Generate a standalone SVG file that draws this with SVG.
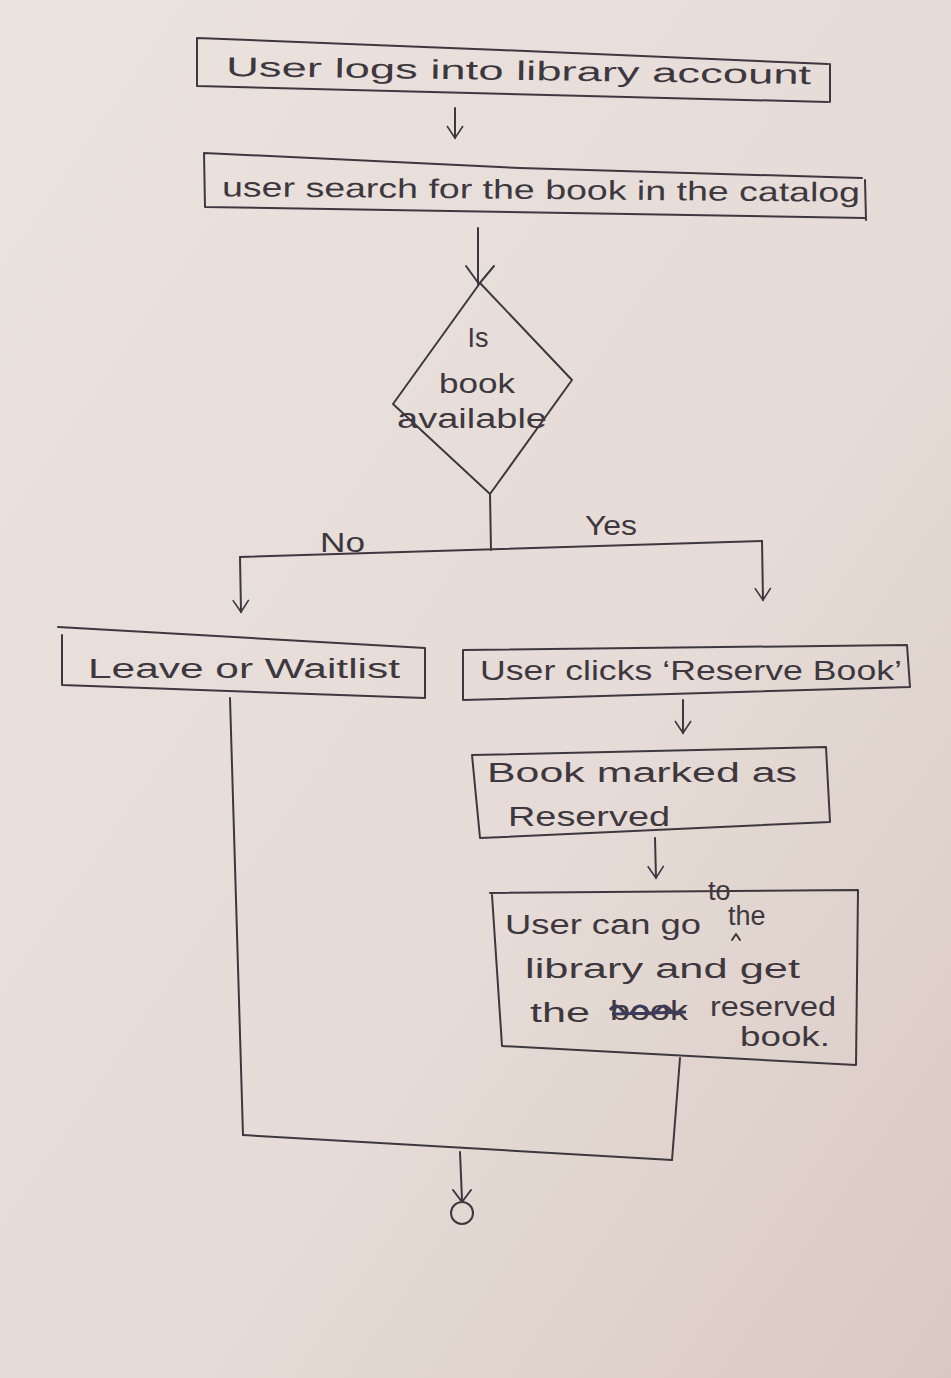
<svg xmlns="http://www.w3.org/2000/svg" width="951" height="1378" viewBox="0 0 951 1378">
<defs>
<linearGradient id="paper" x1="0" y1="0" x2="1" y2="1">
<stop offset="0" stop-color="#ebe3df"/>
<stop offset="0.6" stop-color="#e6dbd6"/>
<stop offset="1" stop-color="#d9c9c2"/>
</linearGradient>
<marker id="v" viewBox="0 0 20 20" refX="18" refY="10" markerWidth="20" markerHeight="20" markerUnits="userSpaceOnUse" orient="auto">
<path d="M6 2 L18 10 L6 18" fill="none" stroke="#3d3840" stroke-width="1.6"/>
</marker>
</defs>
<style>
.ink{fill:none;stroke:#3d3840;stroke-width:2;stroke-linejoin:round;stroke-linecap:round}
.t{font-family:"Liberation Sans","DejaVu Sans",sans-serif;fill:#3d3840;font-size:27px}
</style>
<rect width="951" height="1378" fill="url(#paper)"/>

<g id="connectors">
<path class="ink" d="M455 108 L455 138" marker-end="url(#v)"/>
<path class="ink" d="M478 228 L478 284"/>
<path class="ink" d="M466 266 L479 284 L494 266"/>
<path class="ink" d="M490 494 L491 550"/>
<path class="ink" d="M240 557 L762 541"/>
<path class="ink" d="M240 557 L241 612" marker-end="url(#v)"/>
<path class="ink" d="M762 541 L763 600" marker-end="url(#v)"/>
<path class="ink" d="M683 700 L683 733" marker-end="url(#v)"/>
<path class="ink" d="M655 838 L656 878" marker-end="url(#v)"/>
<path class="ink" d="M230 698 L243 1135"/>
<path class="ink" d="M680 1058 L672 1160"/>
<path class="ink" d="M243 1135 L672 1160"/>
<path class="ink" d="M460 1152 L462 1200"/>
<path class="ink" d="M453 1190 L462 1202 L471 1190"/>
</g>

<g id="start">
<path class="ink" d="M197 38 L500 50 L828 64 M197 38 L197 86 L828 102 M830 64 L830 102"/>
<text class="t" x="226" y="80" textLength="585" lengthAdjust="spacingAndGlyphs" transform="rotate(0.8 520 80)">User logs into library account</text>
</g>

<g id="search">
<path class="ink" d="M204 153 L520 168 L862 178 M204 153 L205 207 L865 218 M865 180 L866 220"/>
<text class="t" x="222" y="199" textLength="638" lengthAdjust="spacingAndGlyphs" transform="rotate(0.5 540 199)">user search for the book in the catalog</text>
</g>

<g id="decision">
<path class="ink" d="M480 283 L572 380 L490 494 L393 404 L480 283"/>
<text class="t" x="478" y="347" text-anchor="middle" font-size="24">Is</text>
<text class="t" x="477" y="393" text-anchor="middle" font-size="25" textLength="76" lengthAdjust="spacingAndGlyphs">book</text>
<text class="t" x="472" y="428" text-anchor="middle" font-size="25" textLength="150" lengthAdjust="spacingAndGlyphs">available</text>
</g>

<g id="labels">
<text class="t" x="320" y="552" font-size="25" textLength="45" lengthAdjust="spacingAndGlyphs">No</text>
<text class="t" x="585" y="535" font-size="24" textLength="52" lengthAdjust="spacingAndGlyphs">Yes</text>
</g>

<g id="leave">
<path class="ink" d="M58 627 L425 648 L425 698 L62 685 L62 635"/>
<text class="t" x="88" y="678" textLength="312" lengthAdjust="spacingAndGlyphs">Leave or Waitlist</text>
</g>

<g id="reserve">
<path class="ink" d="M463 650 L907 645 L910 687 M463 650 L463 700 L910 687"/>
<text class="t" x="480" y="680" font-size="25" textLength="422" lengthAdjust="spacingAndGlyphs">User clicks ‘Reserve Book’</text>
</g>

<g id="marked">
<path class="ink" d="M472 755 L826 747 L830 822 L480 838 L472 755"/>
<text class="t" x="487" y="782" textLength="310" lengthAdjust="spacingAndGlyphs">Book marked as</text>
<text class="t" x="508" y="826" textLength="162" lengthAdjust="spacingAndGlyphs">Reserved</text>
</g>

<g id="collect">
<path class="ink" d="M490 893 L858 890 L856 1065 L502 1046 L492 895"/>
<text class="t" x="505" y="934" textLength="196" lengthAdjust="spacingAndGlyphs">User can go</text>
<text class="t" x="708" y="900" font-size="18">to</text>
<path class="ink" d="M732 940 L736 934 L740 940" stroke-width="1.6"/>
<text class="t" x="728" y="925" font-size="20">the</text>
<text class="t" x="525" y="978" textLength="275" lengthAdjust="spacingAndGlyphs">library and get</text>
<text class="t" x="530" y="1022" textLength="60" lengthAdjust="spacingAndGlyphs">the</text>
<text class="t" x="610" y="1020" font-size="20" textLength="78" lengthAdjust="spacingAndGlyphs">book</text>
<path d="M610 1010 q6 -8 12 0 q6 8 12 0 q6 -8 12 0 q6 8 12 0 q6 -8 12 0 q6 8 12 0 M612 1014 L686 1012" fill="none" stroke="#3d3a5a" stroke-width="3"/>
<text class="t" x="710" y="1016" textLength="126" lengthAdjust="spacingAndGlyphs">reserved</text>
<text class="t" x="740" y="1046" textLength="90" lengthAdjust="spacingAndGlyphs">book.</text>
</g>

<g id="end">
<circle class="ink" cx="462" cy="1213" r="11"/>
</g>
</svg>
